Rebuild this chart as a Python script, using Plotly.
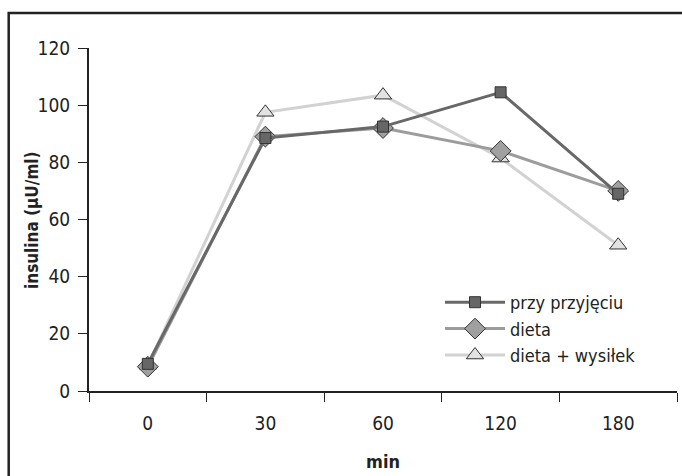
import plotly.graph_objects as go

categories = ["0", "30", "60", "120", "180"]
przy_przyjeciu = [9.5, 88.5, 92.5, 104.5, 69]
dieta = [8.5, 89, 92, 84, 70]
dieta_wysilek = [9, 97.5, 103.5, 81.5, 51]
y_ticks = [0, 20, 40, 60, 80, 100, 120]

FONT = "DejaVu Sans Condensed, Liberation Sans Narrow, sans-serif"

fig = go.Figure()
fig.add_trace(go.Scatter(
    x=categories, y=dieta_wysilek, name="dieta + wysiłek", mode="lines+markers",
    line=dict(color="#d2d2d2", width=3),
    marker=dict(symbol="triangle-up", size=15, color="#e2e2e2", line=dict(color="#333", width=1)),
))
fig.add_trace(go.Scatter(
    x=categories, y=dieta, name="dieta", mode="lines+markers",
    line=dict(color="#9c9c9c", width=3),
    marker=dict(symbol="diamond", size=16, color="#a0a0a0", line=dict(color="#333", width=1)),
))
fig.add_trace(go.Scatter(
    x=categories, y=przy_przyjeciu, name="przy przyjęciu", mode="lines+markers",
    line=dict(color="#686868", width=3),
    marker=dict(symbol="square", size=11, color="#666666", line=dict(color="#333", width=1)),
))

W, H = 682, 476
L, R, T, B = 89, 5, 48, 85
pw, ph = W - L - R, H - T - B

def px(xp):
    return (xp - L) / pw

def py(yp):
    return (H - B - yp) / ph

fig.add_shape(type="rect", xref="paper", yref="paper",
              x0=px(8.7), x1=px(W + 5), y0=py(H + 5), y1=py(13),
              line=dict(color="#222", width=2.5), fillcolor="rgba(0,0,0,0)")

fig.add_annotation(text="<b>insulina (µU/ml)</b>", xref="paper", yref="paper",
                   x=px(32), y=py(220), textangle=-90, showarrow=False,
                   xanchor="center", yanchor="middle", font=dict(size=17, color="#222"))

fig.update_layout(
    width=W, height=H,
    margin=dict(l=L, r=R, t=T, b=B),
    paper_bgcolor="white", plot_bgcolor="white",
    font=dict(family=FONT, size=19, color="#222"),
    legend=dict(x=px(440), y=py(284), xanchor="left", yanchor="top",
                traceorder="reversed", font=dict(size=18, color="#222"),
                bgcolor="rgba(0,0,0,0)", tracegroupgap=0, itemwidth=60),
    xaxis=dict(type="category", categoryorder="array", categoryarray=categories,
               range=[-0.5, 4.5], showgrid=False, zeroline=False,
               showline=True, linecolor="#222", linewidth=2,
               ticks="outside", tickson="boundaries", ticklen=9, tickwidth=1, tickcolor="#222",
               ticklabelstandoff=14,
               title=dict(text="<b>min</b>", font=dict(size=18), standoff=23)),
    yaxis=dict(range=[0, 120], tickvals=y_ticks, showgrid=False, zeroline=False,
               showline=True, linecolor="#222", linewidth=2,
               ticks="outside", ticklen=9, tickwidth=1, tickcolor="#222",
               ticklabelstandoff=4),
)

fig.write_html("out.html")
